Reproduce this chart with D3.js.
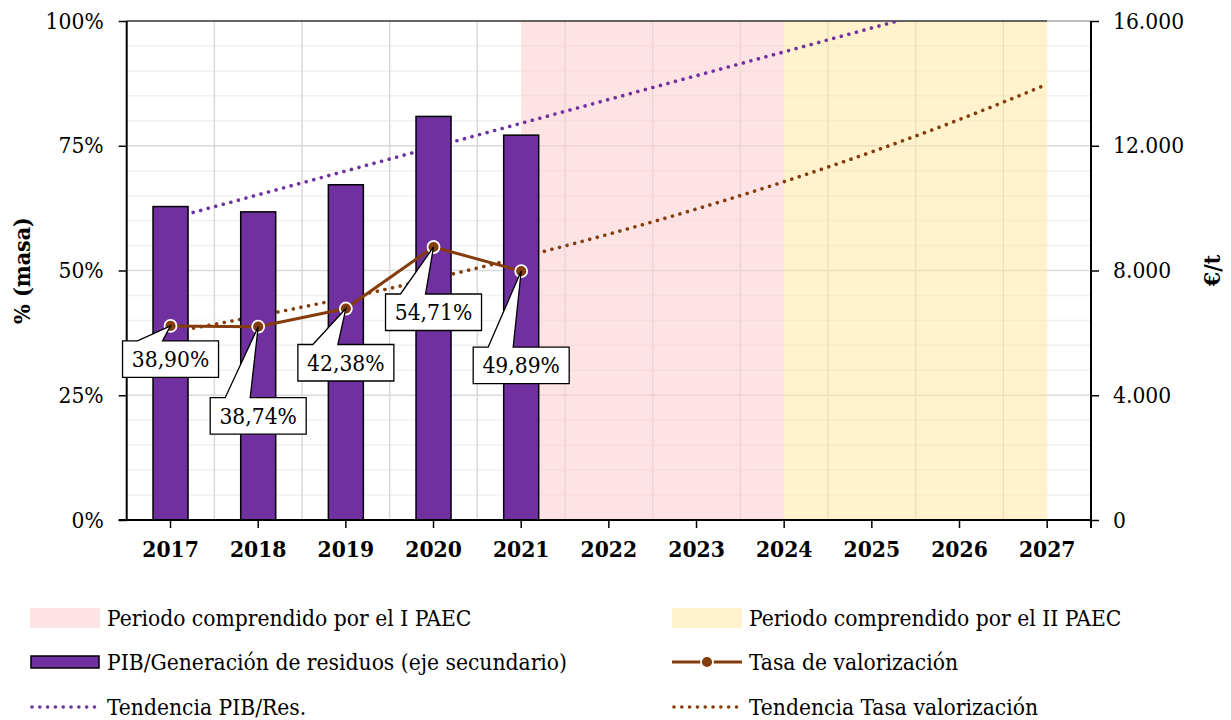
<!DOCTYPE html>
<html>
<head>
<meta charset="utf-8">
<script src="https://cdn.jsdelivr.net/npm/d3@7"></script>
<style>
  body { margin: 0; background: #fff; }
  svg text { font-family: "DejaVu Serif Condensed", "DejaVu Serif", serif; font-stretch: condensed; fill: #000; }
</style>
</head>
<body>
<script>
// data
const years = ["2017", "2018", "2019", "2020", "2021", "2022", "2023", "2024", "2025", "2026", "2027"];
const dataYears = ["2017", "2018", "2019", "2020", "2021"];
const pibRes = [10050, 9880, 10750, 12940, 12340];        // €/t, eje secundario
const tasaValorizacion = [0.3890, 0.3874, 0.4238, 0.5471, 0.4989];
const paec1 = ["2021", "2024"];
const paec2 = ["2024", "2027"];
const labelDrop = [15, 71, 36, 47, 76];   // how far below the point each callout box sits

const W = 1231, H = 720;
const pLeft = 126.7, pRight = 1091, pTop = 21, pBottom = 520;
const fs = "22.6px";

const es = d3.formatLocale({ decimal: ",", thousands: ".", grouping: [3], currency: ["", " €"] });

const svg = d3.select("body").append("svg")
    .attr("width", W)
    .attr("height", H);

const x = d3.scaleBand().domain(years).range([pLeft, pRight]).padding(0);
const cx = d => x(d) + x.bandwidth() / 2;
const yL = d3.scaleLinear().domain([0, 1]).range([pBottom, pTop]);
const yR = d3.scaleLinear().domain([0, 16000]).range([pBottom, pTop]);

// gridlines
const grid = svg.append("g");
grid.selectAll(".minor")
    .data(d3.range(1, 20).filter(k => k % 5 !== 0).map(k => k / 20))
    .join("line")
    .attr("x1", pLeft).attr("x2", pRight)
    .attr("y1", d => yL(d)).attr("y2", d => yL(d))
    .attr("stroke", "#f0f0f0").attr("stroke-width", 1.5);
grid.selectAll(".major")
    .data([0.25, 0.5, 0.75])
    .join("line")
    .attr("x1", pLeft).attr("x2", pRight)
    .attr("y1", d => yL(d)).attr("y2", d => yL(d))
    .attr("stroke", "#d9d9d9").attr("stroke-width", 1.5);
grid.selectAll(".vert")
    .data(years.slice(1))
    .join("line")
    .attr("x1", d => x(d)).attr("x2", d => x(d))
    .attr("y1", pTop).attr("y2", pBottom)
    .attr("stroke", "#d9d9d9").attr("stroke-width", 1.5);

// shaded periods
svg.append("rect")
    .attr("x", cx(paec1[0])).attr("width", cx(paec1[1]) - cx(paec1[0]))
    .attr("y", pTop).attr("height", pBottom - pTop)
    .attr("fill", "#fbd0d0").attr("fill-opacity", 0.6);
svg.append("rect")
    .attr("x", cx(paec2[0])).attr("width", cx(paec2[1]) - cx(paec2[0]))
    .attr("y", pTop).attr("height", pBottom - pTop)
    .attr("fill", "#ffe699").attr("fill-opacity", 0.5);

// top border
svg.append("line")
    .attr("x1", pLeft).attr("x2", cx(paec2[1]))
    .attr("y1", pTop).attr("y2", pTop)
    .attr("stroke", "#333").attr("stroke-width", 1.5);
svg.append("line")
    .attr("x1", cx(paec2[1])).attr("x2", pRight)
    .attr("y1", pTop).attr("y2", pTop)
    .attr("stroke", "#a6a6a6").attr("stroke-width", 1.5);

// trend lines (Excel style: linear for PIB/Res, exponential for tasa)
function fit(xs, ys) {
    const mx = d3.mean(xs), my = d3.mean(ys);
    const b = d3.sum(xs, (v, i) => (v - mx) * (ys[i] - my)) / d3.sum(xs, v => (v - mx) ** 2);
    return { a: my - b * mx, b };
}
const idx = dataYears.map((d, i) => i);
const lin = fit(idx, pibRes);
const expo = fit(idx, tasaValorizacion.map(Math.log));
const trendPib = years.map((d, i) => [cx(d), yR(lin.a + lin.b * i)]);
const trendTasa = years.map((d, i) => [cx(d), yL(Math.exp(expo.a + expo.b * i))]);

svg.append("clipPath").attr("id", "plot")
    .append("rect").attr("x", pLeft).attr("y", pTop).attr("width", pRight - pLeft).attr("height", pBottom - pTop);

const trends = svg.append("g").attr("clip-path", "url(#plot)");
trends.append("path")
    .attr("d", d3.line()(trendPib))
    .attr("fill", "none").attr("stroke", "#7030a0").attr("stroke-width", 3.6)
    .attr("stroke-linecap", "round").attr("stroke-dasharray", "0.01 7.8");
trends.append("path")
    .attr("d", d3.line().curve(d3.curveMonotoneX)(trendTasa))
    .attr("fill", "none").attr("stroke", "#843c0c").attr("stroke-width", 3.6)
    .attr("stroke-linecap", "round").attr("stroke-dasharray", "0.01 7.8");

// bars
const barW = 35;
svg.append("g").selectAll("rect")
    .data(dataYears)
    .join("rect")
    .attr("x", d => cx(d) - barW / 2)
    .attr("y", (d, i) => yR(pibRes[i]))
    .attr("width", barW)
    .attr("height", (d, i) => pBottom - yR(pibRes[i]))
    .attr("fill", "#7030a0")
    .attr("stroke", "#000").attr("stroke-width", 1.5);

// axes
const axL = svg.append("g")
    .attr("transform", `translate(${pLeft},0)`)
    .call(d3.axisLeft(yL).tickValues([0, 0.25, 0.5, 0.75, 1]).tickFormat(d3.format(".0%")).tickSize(8).tickPadding(15));
const axR = svg.append("g")
    .attr("transform", `translate(${pRight},0)`)
    .call(d3.axisRight(yR).tickValues([0, 4000, 8000, 12000, 16000]).tickFormat(es.format(",")).tickSize(8).tickPadding(14));
const axB = svg.append("g")
    .attr("transform", `translate(0,${pBottom})`)
    .call(d3.axisBottom(x).tickSize(8).tickPadding(13));
[axL, axR, axB].forEach(g => {
    g.select(".domain").remove();
    g.selectAll(".tick line").attr("stroke", "#000").attr("stroke-width", 1.5);
    g.selectAll("text").attr("font-family", null).style("font-size", fs).attr("fill", "#000");
});
axB.selectAll("text").style("font-weight", "bold");

// axis lines
svg.append("line").attr("x1", pLeft).attr("x2", pLeft).attr("y1", pTop).attr("y2", pBottom)
    .attr("stroke", "#000").attr("stroke-width", 2);
svg.append("line").attr("x1", pRight).attr("x2", pRight).attr("y1", pTop).attr("y2", pBottom + 8)
    .attr("stroke", "#000").attr("stroke-width", 2);
svg.append("line").attr("x1", pLeft - 8).attr("x2", pRight).attr("y1", pBottom).attr("y2", pBottom)
    .attr("stroke", "#000").attr("stroke-width", 2);

// axis titles
svg.append("text")
    .attr("transform", `translate(30,${(pTop + pBottom) / 2}) rotate(-90)`)
    .attr("text-anchor", "middle")
    .style("font-size", "23px").style("font-weight", "bold")
    .text("% (masa)");
svg.append("text")
    .attr("transform", `translate(1220,${(pTop + pBottom) / 2}) rotate(-90)`)
    .attr("text-anchor", "middle")
    .style("font-size", "23px").style("font-weight", "bold")
    .text("€/t");

// tasa de valorización line
const pts = dataYears.map((d, i) => [cx(d), yL(tasaValorizacion[i])]);
svg.append("path")
    .attr("d", d3.line()(pts))
    .attr("fill", "none").attr("stroke", "#843c0c").attr("stroke-width", 3);
svg.append("g").selectAll("circle")
    .data(pts)
    .join("circle")
    .attr("cx", d => d[0]).attr("cy", d => d[1]).attr("r", 6)
    .attr("fill", "#843c0c").attr("stroke", "#fff").attr("stroke-width", 1.8);

// callouts
const pct = es.format(".2%");
const bw = 96, bh = 36.5;
const callouts = svg.append("g").selectAll("g")
    .data(pts)
    .join("g");
callouts.append("path")
    .attr("d", (p, i) => {
        const c = p[0], t = p[1] + labelDrop[i];
        const l = c - bw / 2, r = c + bw / 2;
        return `M${l},${t}L${c - 33},${t}L${p[0]},${p[1]}L${c - 8},${t}L${r},${t}L${r},${t + bh}L${l},${t + bh}Z`;
    })
    .attr("fill", "#fff").attr("stroke", "#000").attr("stroke-width", 1.3);
callouts.append("text")
    .attr("x", p => p[0])
    .attr("y", (p, i) => p[1] + labelDrop[i] + bh / 2)
    .attr("dy", "0.36em")
    .attr("text-anchor", "middle")
    .style("font-size", fs)
    .text((p, i) => pct(tasaValorizacion[i]));

// legend
const lg = svg.append("g");
const rows = [618, 662, 707];
const colL = 30, colR = 672, swW = 70;
function legendText(xp, yp, s) {
    lg.append("text").attr("x", xp + swW + 7).attr("y", yp).attr("dy", "0.35em")
        .style("font-size", fs).text(s);
}
lg.append("rect").attr("x", colL).attr("y", rows[0] - 10).attr("width", swW).attr("height", 20)
    .attr("fill", "#fbd0d0").attr("fill-opacity", 0.6);
legendText(colL, rows[0], "Periodo comprendido por el I PAEC");
lg.append("rect").attr("x", colR).attr("y", rows[0] - 10).attr("width", swW).attr("height", 20)
    .attr("fill", "#ffe699").attr("fill-opacity", 0.5);
legendText(colR, rows[0], "Periodo comprendido por el II PAEC");

lg.append("rect").attr("x", colL + 1).attr("y", rows[1] - 6).attr("width", swW - 2).attr("height", 12)
    .attr("fill", "#7030a0").attr("stroke", "#000").attr("stroke-width", 1.5);
legendText(colL, rows[1], "PIB/Generación de residuos (eje secundario)");
lg.append("line").attr("x1", colR).attr("x2", colR + swW).attr("y1", rows[1]).attr("y2", rows[1])
    .attr("stroke", "#843c0c").attr("stroke-width", 3);
lg.append("circle").attr("cx", colR + swW / 2).attr("cy", rows[1]).attr("r", 6)
    .attr("fill", "#843c0c").attr("stroke", "#fff").attr("stroke-width", 1.8);
legendText(colR, rows[1], "Tasa de valorización");

lg.append("line").attr("x1", colL + 2).attr("x2", colL + swW).attr("y1", rows[2]).attr("y2", rows[2])
    .attr("stroke", "#7030a0").attr("stroke-width", 3.6).attr("stroke-linecap", "round").attr("stroke-dasharray", "0.01 7.8");
legendText(colL, rows[2], "Tendencia PIB/Res.");
lg.append("line").attr("x1", colR + 2).attr("x2", colR + swW).attr("y1", rows[2]).attr("y2", rows[2])
    .attr("stroke", "#843c0c").attr("stroke-width", 3.6).attr("stroke-linecap", "round").attr("stroke-dasharray", "0.01 7.8");
legendText(colR, rows[2], "Tendencia Tasa valorización");
</script>
</body>
</html>
